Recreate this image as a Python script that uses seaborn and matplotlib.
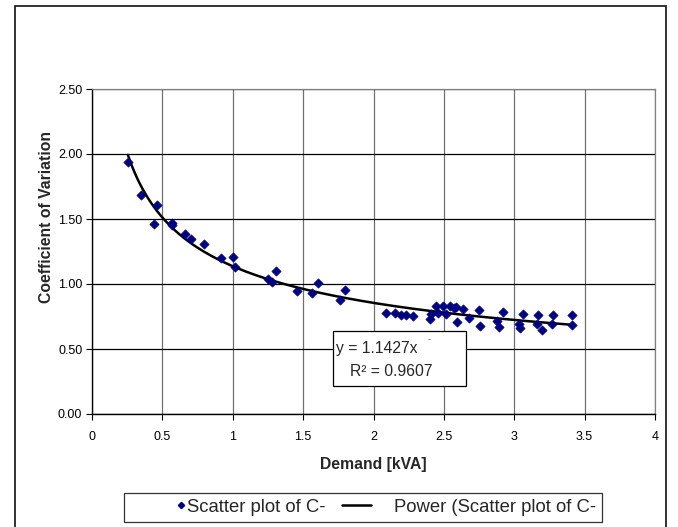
import numpy as np
import matplotlib
matplotlib.use("Agg")
import matplotlib.pyplot as plt
from matplotlib.lines import Line2D
from matplotlib.patches import Rectangle
from matplotlib.legend_handler import HandlerLine2D
from matplotlib.ticker import FuncFormatter, MultipleLocator
import seaborn as sns

# ── data ──────────────────────────────────────────────────────────
demand = [0.255, 0.349, 0.439, 0.460, 0.567, 0.571, 0.659, 0.701, 0.794, 0.916,
          0.999, 1.016, 1.252, 1.276, 1.309, 1.458, 1.562, 1.607, 1.765, 1.798,
          2.087, 2.156, 2.198, 2.233, 2.280, 2.400, 2.405, 2.446, 2.457, 2.495,
          2.512, 2.545, 2.570, 2.588, 2.592, 2.637, 2.680, 2.753, 2.757, 2.880,
          2.895, 2.918, 3.037, 3.040, 3.061, 3.160, 3.167, 3.195, 3.270, 3.277,
          3.413, 3.413]
cov = [1.940, 1.685, 1.460, 1.608, 1.470, 1.454, 1.387, 1.346, 1.308, 1.202,
       1.208, 1.128, 1.041, 1.015, 1.102, 0.944, 0.933, 1.005, 0.878, 0.957,
       0.780, 0.779, 0.762, 0.762, 0.755, 0.728, 0.770, 0.833, 0.780, 0.832,
       0.770, 0.831, 0.818, 0.820, 0.705, 0.808, 0.740, 0.800, 0.679, 0.713,
       0.667, 0.782, 0.692, 0.659, 0.772, 0.690, 0.762, 0.646, 0.690, 0.762,
       0.762, 0.685]

eq_text = "y = 1.1427x"
r2_text = "R\u00b2 = 0.9607"
series_label = "Scatter plot of C-"
trend_label = "Power (Scatter plot of C-"

NAVY = "#000080"
W, H = 678, 527

sns.set_style("white")
plt.rcParams["font.family"] = ["Liberation Sans", "DejaVu Sans"]

fig = plt.figure(figsize=(W / 100, H / 100), dpi=100)
ax = fig.add_axes([92 / W, 1 - 414 / H, (655 - 92) / W, (414 - 89) / H])

# power trendline fitted in log-log space
x = np.array(demand)
y = np.array(cov)
b, ln_a = np.polyfit(np.log(x), np.log(y), 1)
xs = np.linspace(x.min(), x.max(), 200)
ys = np.exp(ln_a) * xs ** b

sns.lineplot(x=xs, y=ys, ax=ax, color="black", linewidth=1.8, zorder=3)
sns.scatterplot(x=demand, y=cov, ax=ax, marker="D", s=22, color=NAVY,
                edgecolor=NAVY, linewidth=0.5, zorder=4)

ax.set_xlim(0, 4)
ax.set_ylim(0, 2.5)
ax.xaxis.set_major_locator(MultipleLocator(0.5))
ax.yaxis.set_major_locator(MultipleLocator(0.5))
ax.xaxis.set_major_formatter(FuncFormatter(lambda v, p: f"{v:g}"))
ax.yaxis.set_major_formatter(FuncFormatter(lambda v, p: f"{v:.2f}"))
ax.grid(axis="y", color="black", linewidth=0.9)
ax.grid(axis="x", color="#707070", linewidth=0.9)
ax.set_axisbelow(True)
for side in ["top", "right"]:
    ax.spines[side].set_color("#808080")
    ax.spines[side].set_linewidth(0.9)
for side in ["left", "bottom"]:
    ax.spines[side].set_color("black")
    ax.spines[side].set_linewidth(1.0)
ax.tick_params(axis="both", direction="out", length=4, width=0.8,
               labelsize=9, colors="black", pad=3,
               bottom=True, left=True)
ax.tick_params(axis="x", pad=8)

ax.set_xlabel("Demand [kVA]", fontsize=11.3, fontweight="bold")
ax.set_ylabel("Coefficient of Variation", fontsize=11.3, fontweight="bold")
ax.xaxis.set_label_coords(0.499, -0.133)
ax.yaxis.set_label_coords(-0.067, 0.605)

# equation box
ax.add_patch(Rectangle((1.711, 0.215), 0.943, 0.423, facecolor="white",
                       edgecolor="black", linewidth=0.9, zorder=5))
ax.text(1.735, 0.505, eq_text, fontsize=11.3, va="center", ha="left",
        zorder=6)
ax.text(2.385, 0.57, "-", fontsize=6, va="center", ha="left", zorder=6)
ax.text(1.831, 0.33, r2_text, fontsize=11.3, va="center", ha="left",
        zorder=6)


class MarkerRight(HandlerLine2D):
    def get_xdata(self, legend, xdescent, ydescent, width, height, fontsize):
        xd = np.array([-xdescent + width - 6, -xdescent + width])
        return xd, xd[:1]


class LineLeft(HandlerLine2D):
    def get_xdata(self, legend, xdescent, ydescent, width, height, fontsize):
        xd = np.array([-xdescent + 0.1 * width, -xdescent + 0.62 * width])
        return xd, xd[:1]


h_pts = Line2D([], [], marker="D", ls="none", color=NAVY, ms=3.2)
h_fit = Line2D([], [], color="black", lw=1.8)
leg = fig.legend([h_pts, h_fit], [series_label, trend_label], ncol=2,
                 loc="upper left", bbox_to_anchor=(124 / W, 1 - 493 / H),
                 bbox_transform=fig.transFigure, borderaxespad=0,
                 fontsize=13.3, handlelength=3.0, handletextpad=0.1,
                 columnspacing=0.6, borderpad=0.32, fancybox=False,
                 frameon=True,
                 handler_map={h_pts: MarkerRight(), h_fit: LineLeft()})
leg.get_frame().set_edgecolor("black")
leg.get_frame().set_linewidth(0.9)

# outer chart frame
fig.patches.append(Rectangle((15 / W, -0.02), (666 - 15) / W, 1 - 6 / H + 0.02,
                             transform=fig.transFigure, fill=False,
                             edgecolor="#222222", linewidth=1.3))

fig.savefig("out.png", dpi=100)
